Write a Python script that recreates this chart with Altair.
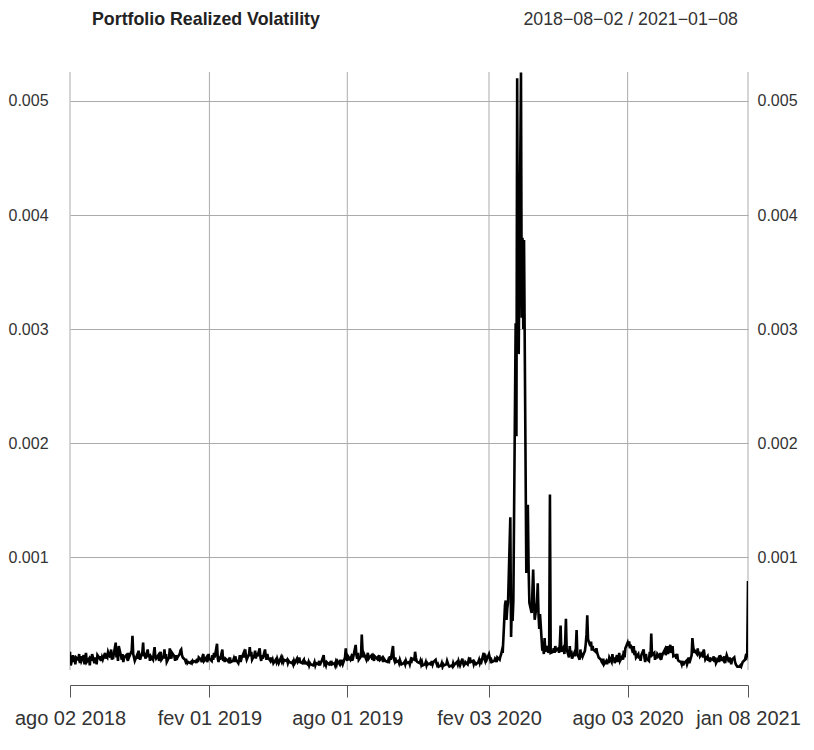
import altair as alt
import pandas as pd

# Realized volatility, one value per business day, in units of 1e-4
# (each line = one week, Mon..Fri; first line = Thu 2018-08-02, Fri 2018-08-03)
vol_e4 = [
    1.7, 0.5,
    1.4, 0.8, 1.3, 0.6, 1.2,
    1.0, 1.5, 0.7, 1.3, 0.9,
    1.4, 0.6, 1.2, 1.6, 0.8,
    1.1, 0.5, 1.3, 0.9, 1.5,
    0.7, 1.2, 1.0, 0.6, 1.4,
    1.1, 1.3, 0.9, 1.2, 1.0,
    1.6, 1.1, 1.3, 1.2, 1.7,
    1.2, 1.9, 1.0, 1.4, 1.3,
    2.5, 1.2, 1.6, 0.9, 2.2,
    1.3, 1.0, 1.5, 0.8, 1.2,
    1.4, 1.1, 0.9, 1.6, 1.3,
    1.8, 3.1, 1.5, 1.2, 0.9,
    1.4, 1.1, 1.8, 1.3, 1.0,
    1.7, 2.5, 1.3, 1.6, 1.1,
    1.9, 1.2, 1.5, 0.9, 1.3,
    1.0, 1.6, 2.1, 1.3, 1.1,
    1.4, 0.9, 1.2, 1.7, 1.0,
    1.3, 1.9, 1.1, 1.5, 0.8,
    1.2, 2.0, 1.4, 1.1, 1.6,
    1.3, 0.9, 1.4, 1.0, 1.2,
    1.5, 1.8, 1.9, 1.4, 1.2,
    1.0, 0.8, 0.9, 0.7, 0.8,
    0.7, 0.8, 0.7, 0.9, 0.8,
    0.9, 0.7, 1.1, 0.8, 1.2,
    1.0, 0.8, 1.3, 1.5, 0.9,
    1.2, 0.8, 1.0, 1.5, 1.1,
    0.9, 1.4, 1.0, 1.6, 1.2,
    2.4, 1.1, 0.8, 1.3, 1.0,
    1.9, 0.9, 1.2, 0.8, 1.1,
    0.9, 1.0, 0.7, 1.2, 0.8,
    0.9, 1.1, 0.8, 1.3, 1.0,
    0.7, 1.0, 1.4, 0.8, 1.1,
    1.6, 1.2, 1.9, 1.3, 1.0,
    1.5, 2.1, 1.3, 1.7, 1.0,
    1.4, 1.8, 1.1, 1.6, 1.3,
    2.0, 1.2, 0.9, 1.4, 1.1,
    1.9, 1.3, 1.0, 1.5, 1.2,
    0.9, 1.2, 0.8, 1.0, 0.7,
    1.0, 0.8, 1.1, 0.9, 0.7,
    1.2, 0.9, 1.1, 0.8, 1.0,
    0.9, 1.0, 0.7, 0.9, 0.8,
    0.7, 0.8, 0.6, 0.9, 0.7,
    1.1, 0.8, 0.9, 1.2, 0.8,
    0.7, 0.9, 1.0, 0.6, 0.8,
    0.6, 0.8, 0.5, 0.7, 0.6,
    0.5, 0.6, 0.8, 0.5, 0.7,
    0.6, 0.9, 0.5, 0.7, 0.8,
    1.4, 0.6, 0.7, 0.5, 0.8,
    0.6, 0.7, 0.5, 0.9, 0.6,
    0.7, 0.5, 0.8, 0.6, 0.9,
    0.6, 1.0, 0.7, 0.8, 0.6,
    1.2, 2.0, 1.1, 0.9, 1.3,
    1.0, 1.2, 0.9, 1.5, 1.3,
    2.3, 1.4, 1.1, 1.6, 1.0,
    1.3, 3.2, 1.8, 1.2, 1.5,
    1.0, 1.3, 1.6, 1.1, 1.2,
    1.4, 1.0, 1.2, 0.9, 1.3,
    1.1, 1.2, 0.9, 1.4, 1.0,
    1.2, 0.8, 1.1, 1.0, 0.9,
    0.8, 1.0, 0.9, 1.3, 1.0,
    2.2, 1.1, 0.9, 1.2, 0.8,
    0.9, 0.7, 1.0, 0.8, 0.6,
    0.7, 0.8, 0.6, 0.9, 0.7,
    0.8, 0.6, 0.9, 0.7, 1.1,
    1.0, 1.7, 1.2, 0.9, 0.8,
    0.7, 0.9, 0.6, 0.8, 0.5,
    0.6, 0.8, 0.5, 0.7, 0.6,
    0.7, 0.5, 0.9, 0.6, 0.8,
    1.0, 0.7, 0.5, 0.6, 0.4,
    0.5, 0.7, 0.4, 0.6, 0.5,
    0.6, 0.9, 0.7, 0.5, 0.4,
    0.5, 0.4, 0.7, 0.5, 0.6,
    0.8, 0.6, 0.9, 0.7, 0.5,
    1.1, 0.7, 0.5, 0.6, 0.8,
    0.6, 0.9, 0.7, 1.2, 0.8,
    0.9, 0.6, 0.8, 0.7, 0.6,
    0.8, 1.0, 0.7, 0.9, 0.8,
    1.6, 1.1, 0.9, 1.2, 1.0,
    1.5, 1.2, 0.9, 1.0, 0.8,
    0.9, 1.1, 1.0, 0.8, 1.2,
    1.0, 1.3, 1.5, 1.8, 1.6,
    5.8, 6.2, 4.5, 5.5, 6.0,
    13.5, 3.0, 5.8, 4.4, 6.2,
    30.5, 20.6, 52.0, 35.0, 27.8,
    52.5, 31.0, 38.0, 30.0, 37.8,
    8.6, 12.0, 14.6, 9.0, 6.0,
    5.1, 7.0, 8.9, 6.5, 4.5,
    6.0, 7.7, 5.0, 3.7, 5.0,
    1.8, 2.3, 1.5, 2.9, 1.7,
    2.2, 1.6, 1.9, 15.5, 1.6,
    1.7, 2.0, 1.6, 2.2, 1.8,
    2.0, 1.6, 2.4, 4.0, 1.7,
    2.1, 1.5, 2.6, 4.6, 1.9,
    1.2, 2.2, 1.4, 1.8, 1.1,
    1.6, 1.3, 2.0, 3.6, 1.5,
    1.0, 1.9, 1.2, 1.6, 1.3,
    1.8, 2.4, 3.2, 4.9, 2.8,
    2.2, 2.6, 1.8, 2.2, 1.9,
    1.7, 2.0, 1.6, 1.4, 1.2,
    1.0, 0.8, 0.7, 1.1, 0.6,
    0.9, 0.6, 1.0, 0.7, 1.2,
    0.8, 1.5, 0.9, 1.2, 0.7,
    1.4, 0.8, 1.1, 1.6, 0.9,
    1.3, 1.0, 1.8, 1.2, 2.0,
    2.5, 2.2, 2.6, 2.0, 2.3,
    1.6, 2.2, 1.4, 1.8, 1.2,
    1.5, 1.1, 1.3, 0.9, 1.4,
    1.9, 1.2, 0.8, 1.5, 1.1,
    0.9, 1.7, 1.2, 3.3, 1.4,
    1.6, 1.0, 1.4, 1.1, 1.5,
    1.2, 1.6, 1.0, 1.3, 1.5,
    1.9, 1.4, 1.7, 2.2, 1.5,
    2.3, 1.6, 1.8, 2.2, 1.3,
    1.4, 1.1, 1.5, 1.0, 0.9,
    0.8, 0.6, 0.9, 0.5, 0.7,
    0.9, 0.6, 0.8, 1.2, 0.7,
    1.4, 2.9, 2.2, 1.6, 1.8,
    1.5, 2.0, 1.4, 1.7, 1.3,
    1.6, 1.2, 1.9, 1.4, 1.0,
    1.3, 0.9, 1.2, 0.8, 1.1,
    1.0, 1.3, 0.8, 1.2, 0.7,
    1.1, 0.8, 1.4, 0.9, 1.2,
    0.9, 1.3, 0.7, 1.1, 1.4,
    0.8, 1.2, 0.9, 0.6, 1.0,
    1.2, 0.8, 0.6, 0.5, 0.4,
    0.4, 0.5, 0.4, 0.6, 0.8,
    1.0, 1.3, 1.2, 1.5, 7.9,
]

tick_dates = ["2018-08-02", "2019-02-01", "2019-08-01", "2020-02-03", "2020-08-03", "2021-01-08"]
y_ticks = [0.001, 0.002, 0.003, 0.004, 0.005]
title_left = "Portfolio Realized Volatility"
title_right = "2018\u221208\u221202 / 2021\u221201\u221208"

dates = pd.bdate_range("2018-08-02", "2021-01-08")
n = min(len(dates), len(vol_e4))
df = pd.DataFrame({"date": dates[:n], "vol": [v * 1e-4 for v in vol_e4[:n]]})
ticks_df = pd.DataFrame({"date": pd.to_datetime(tick_dates)})


def dt(s):
    t = pd.Timestamp(s)
    return alt.DateTime(year=t.year, month=t.month, date=t.day)


FONT = "Liberation Sans"
GRID = "#ababab"

x_scale = alt.Scale(domain=[dt(tick_dates[0]), dt(tick_dates[-1])], nice=False)
y_scale = alt.Scale(domain=[0.00001, 0.005254], nice=False, zero=False)

x_axis = alt.Axis(
    values=[dt(s) for s in tick_dates],
    labelExpr="['jan','fev','mar','abr','mai','jun','jul','ago','set','out','nov','dez'][month(datum.value)] + ' ' + timeFormat(datum.value, '%d %Y')",
    offset=15, tickSize=12, tickColor="#555555", domainColor="#555555",
    labelPadding=11, labelFontSize=20, labelFont=FONT, labelColor="#333333",
    grid=False, title=None, labelOverlap=False, labelBound=False, labelFlush=False,
)

vgrid = alt.Chart(ticks_df).mark_rule(color=GRID, strokeWidth=1).encode(
    x=alt.X("date:T", scale=x_scale, axis=x_axis)
)

line = alt.Chart(df).mark_line(color="black", strokeWidth=2.6, clip=True).encode(
    x=alt.X("date:T", scale=x_scale, axis=x_axis),
    y=alt.Y("vol:Q", scale=y_scale, axis=alt.Axis(
        values=y_ticks, format=".3f", orient="left", grid=True, gridColor=GRID,
        domain=False, ticks=False, labelAlign="left", labelPadding=62,
        labelFontSize=16, labelFont=FONT, labelColor="#333333", title=None)),
)

right_axis = alt.Chart(df).mark_line(strokeOpacity=0).encode(
    x=alt.X("date:T", scale=x_scale, axis=x_axis),
    y=alt.Y("vol:Q", scale=y_scale, axis=alt.Axis(
        values=y_ticks, format=".3f", orient="right", grid=False,
        domain=False, ticks=False, labelAlign="left", labelPadding=9,
        labelFontSize=16, labelFont=FONT, labelColor="#333333", title=None)),
)

t_left = alt.Chart(pd.DataFrame({"t": [title_left]})).mark_text(
    align="left", baseline="middle", fontSize=17.8, fontWeight="bold", font=FONT, color="#222222"
).encode(x=alt.value(22), y=alt.value(-52), text="t:N")

t_right = alt.Chart(pd.DataFrame({"t": [title_right]})).mark_text(
    align="right", baseline="middle", fontSize=17.8, font=FONT, color="#333333"
).encode(x=alt.value(668), y=alt.value(-52), text="t:N")

chart = alt.layer(vgrid, line, right_axis, t_left, t_right).resolve_scale(
    y="independent"
).properties(
    width=678, height=598,
    padding={"left": 70, "top": 72, "right": 66, "bottom": 80},
    autosize=alt.AutoSizeParams(type="none"),
).configure_view(stroke=None)

chart.save("out.html", embed_options={"renderer": "svg", "actions": False})
